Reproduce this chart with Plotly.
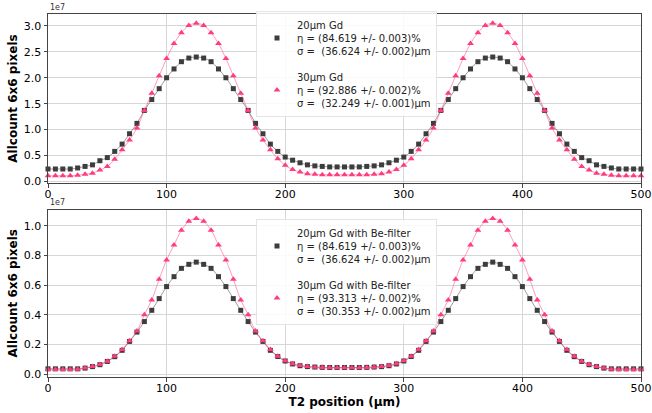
import plotly.graph_objects as go

# T2 scan positions (µm), 6.25 µm step
t2_position = [i * 6.25 for i in range(81)]

# Allcount in a 6x6 pixel region, in units of 1e7
gd20 = [0.24, 0.24, 0.24, 0.24, 0.26, 0.29, 0.32, 0.40, 0.46, 0.58,
        0.72, 0.92, 1.12, 1.37, 1.58, 1.79, 2.00, 2.17, 2.31, 2.38,
        2.40, 2.38, 2.31, 2.17, 2.00, 1.79, 1.58, 1.37, 1.12, 0.92,
        0.72, 0.58, 0.47, 0.41, 0.36, 0.32, 0.30, 0.29, 0.28, 0.28,
        0.28, 0.28, 0.28, 0.29, 0.30, 0.32, 0.36, 0.41, 0.47, 0.58,
        0.72, 0.92, 1.12, 1.37, 1.58, 1.79, 2.00, 2.17, 2.31, 2.38,
        2.40, 2.38, 2.31, 2.17, 2.00, 1.79, 1.58, 1.37, 1.12, 0.92,
        0.72, 0.58, 0.46, 0.40, 0.32, 0.29, 0.26, 0.24, 0.24, 0.24,
        0.24]
gd30 = [0.11, 0.11, 0.11, 0.11, 0.12, 0.14, 0.16, 0.22, 0.29, 0.43,
        0.61, 0.80, 1.03, 1.37, 1.70, 2.04, 2.37, 2.66, 2.87, 3.01,
        3.05, 3.01, 2.87, 2.66, 2.37, 2.04, 1.70, 1.37, 1.03, 0.80,
        0.61, 0.44, 0.31, 0.23, 0.18, 0.15, 0.14, 0.13, 0.13, 0.13,
        0.13, 0.13, 0.13, 0.13, 0.14, 0.15, 0.18, 0.23, 0.31, 0.44,
        0.61, 0.80, 1.03, 1.37, 1.70, 2.04, 2.37, 2.66, 2.87, 3.01,
        3.05, 3.01, 2.87, 2.66, 2.37, 2.04, 1.70, 1.37, 1.03, 0.80,
        0.61, 0.43, 0.29, 0.22, 0.16, 0.14, 0.12, 0.11, 0.11, 0.11,
        0.11]
gd20_be = [0.035, 0.035, 0.035, 0.035, 0.035, 0.040, 0.050, 0.063, 0.085, 0.117,
           0.160, 0.220, 0.283, 0.354, 0.430, 0.509, 0.590, 0.657, 0.713, 0.740,
           0.755, 0.740, 0.713, 0.657, 0.590, 0.509, 0.430, 0.354, 0.283, 0.220,
           0.160, 0.118, 0.088, 0.068, 0.056, 0.050, 0.047, 0.045, 0.044, 0.044,
           0.044, 0.044, 0.044, 0.045, 0.047, 0.050, 0.056, 0.068, 0.088, 0.118,
           0.160, 0.220, 0.283, 0.354, 0.430, 0.509, 0.590, 0.657, 0.713, 0.740,
           0.755, 0.740, 0.713, 0.657, 0.590, 0.509, 0.430, 0.354, 0.283, 0.220,
           0.160, 0.117, 0.085, 0.063, 0.050, 0.040, 0.035, 0.035, 0.035, 0.035,
           0.035]
gd30_be = [0.030, 0.030, 0.030, 0.030, 0.032, 0.040, 0.050, 0.065, 0.087, 0.120,
           0.165, 0.225, 0.290, 0.400, 0.500, 0.640, 0.770, 0.870, 0.970, 1.030,
           1.050, 1.030, 0.970, 0.870, 0.770, 0.640, 0.500, 0.400, 0.290, 0.225,
           0.165, 0.120, 0.090, 0.070, 0.058, 0.050, 0.046, 0.044, 0.043, 0.043,
           0.043, 0.043, 0.043, 0.044, 0.046, 0.050, 0.058, 0.070, 0.090, 0.120,
           0.165, 0.225, 0.290, 0.400, 0.500, 0.640, 0.770, 0.870, 0.970, 1.030,
           1.050, 1.030, 0.970, 0.870, 0.770, 0.640, 0.500, 0.400, 0.290, 0.225,
           0.165, 0.120, 0.087, 0.065, 0.050, 0.040, 0.032, 0.030, 0.030, 0.030,
           0.030]

SCALE = 1e7
top_ticks = [0.0, 0.5, 1.0, 1.5, 2.0, 2.5, 3.0]
bottom_ticks = [0.0, 0.2, 0.4, 0.6, 0.8, 1.0]
x_ticks = [0, 100, 200, 300, 400, 500]

labels_top = [
    "20µm Gd<br>η = (84.619 +/- 0.003)%<br>σ =\u00a0 (36.624 +/- 0.002)µm",
    "30µm Gd<br>η = (92.886 +/- 0.002)%<br>σ =\u00a0 (32.249 +/- 0.001)µm",
]
labels_bottom = [
    "20µm Gd with Be-filter<br>η = (84.619 +/- 0.003)%<br>σ =\u00a0 (36.624 +/- 0.002)µm",
    "30µm Gd with Be-filter<br>η = (93.313 +/- 0.002)%<br>σ =\u00a0 (30.353 +/- 0.002)µm",
]

DARK = "#3d3d3d"
PINK = "#ff3d7c"
FONT = "DejaVu Sans"

fig = go.Figure()


def add_series(values, name, color, symbol, size, line_color, xa, ya, legend, group):
    y = [v * SCALE for v in values]
    fig.add_trace(go.Scatter(
        x=t2_position, y=y, mode="lines", line=dict(color=line_color, width=1, shape="spline"),
        xaxis=xa, yaxis=ya, showlegend=False, hoverinfo="skip", cliponaxis=False,
    ))
    fig.add_trace(go.Scatter(
        x=t2_position, y=y, mode="markers", name=name,
        marker=dict(color=color, symbol=symbol, size=size, line=dict(width=0)),
        xaxis=xa, yaxis=ya, legend=legend, legendgroup=group, cliponaxis=False,
    ))


add_series(gd20, labels_top[0], DARK, "square", 5, "rgba(60,60,60,0.5)", "x", "y", "legend", "a")
add_series(gd30, labels_top[1], PINK, "triangle-up", 6, "rgba(255,61,124,0.5)", "x", "y", "legend", "b")
add_series(gd20_be, labels_bottom[0], DARK, "square", 5, "rgba(60,60,60,0.5)", "x2", "y2", "legend2", "c")
add_series(gd30_be, labels_bottom[1], PINK, "triangle-up", 6, "rgba(255,61,124,0.5)", "x2", "y2", "legend2", "d")

axis_common = dict(
    showline=True, linecolor="#444444", linewidth=1, mirror=True,
    ticks="outside", ticklen=3.5, tickwidth=1, tickcolor="#444444",
    showgrid=True, gridcolor="#d6d6d6", gridwidth=0.8, zeroline=False,
    tickfont=dict(family=FONT, size=11, color="#000000"), automargin=False,
)

top_dom = [(377 - 183) / 363, 1.0]
bot_dom = [0.0, (377 - 209.5) / 363]

legend_common = dict(
    font=dict(family=FONT, size=10, color="#222222"),
    bgcolor="rgba(255,255,255,0.85)", bordercolor="#e4e4e4", borderwidth=1,
    xanchor="left", yanchor="top", traceorder="grouped", tracegroupgap=10,
    valign="middle",
)

title_font = dict(family=FONT, size=12)

fig.update_layout(
    width=652, height=413,
    margin=dict(l=48, r=11, t=14, b=36),
    plot_bgcolor="white", paper_bgcolor="white",
    font=dict(family=FONT, color="#000000"),
    xaxis=dict(axis_common, domain=[0, 1], range=[0, 500], tickvals=x_ticks, anchor="y",
               ticklabelstandoff=-3),
    yaxis=dict(axis_common, domain=top_dom, range=[-0.03 * SCALE, 3.23 * SCALE],
               tickvals=[t * SCALE for t in top_ticks], ticktext=[f"{t:.1f}" for t in top_ticks],
               anchor="x",
               title=dict(text="<b>Allcount 6x6 pixels</b>", font=title_font, standoff=3)),
    xaxis2=dict(axis_common, domain=[0, 1], range=[0, 500], tickvals=x_ticks, anchor="y2",
                ticklabelstandoff=-3,
                title=dict(text="<b>T2 position (µm)</b>", font=title_font, standoff=3)),
    yaxis2=dict(axis_common, domain=bot_dom, range=[-0.02 * SCALE, 1.11 * SCALE],
                tickvals=[t * SCALE for t in bottom_ticks], ticktext=[f"{t:.1f}" for t in bottom_ticks],
                anchor="x2",
                title=dict(text="<b>Allcount 6x6 pixels</b>", font=title_font, standoff=3)),
    legend=dict(legend_common, x=(256 - 48) / 593, y=1.0 + 3 / 363),
    legend2=dict(legend_common, x=(256 - 48) / 593, y=1.0 - (219 - 14) / 363),
    annotations=[
        dict(text="1e7", x=0, y=1.0, xref="paper", yref="paper", xanchor="left", yanchor="bottom",
             showarrow=False, font=dict(family=FONT, size=8, color="#333333")),
        dict(text="1e7", x=0, y=bot_dom[1], xref="paper", yref="paper", xanchor="left", yanchor="bottom",
             showarrow=False, font=dict(family=FONT, size=8, color="#333333")),
    ],
)

fig.write_html("out.html")
